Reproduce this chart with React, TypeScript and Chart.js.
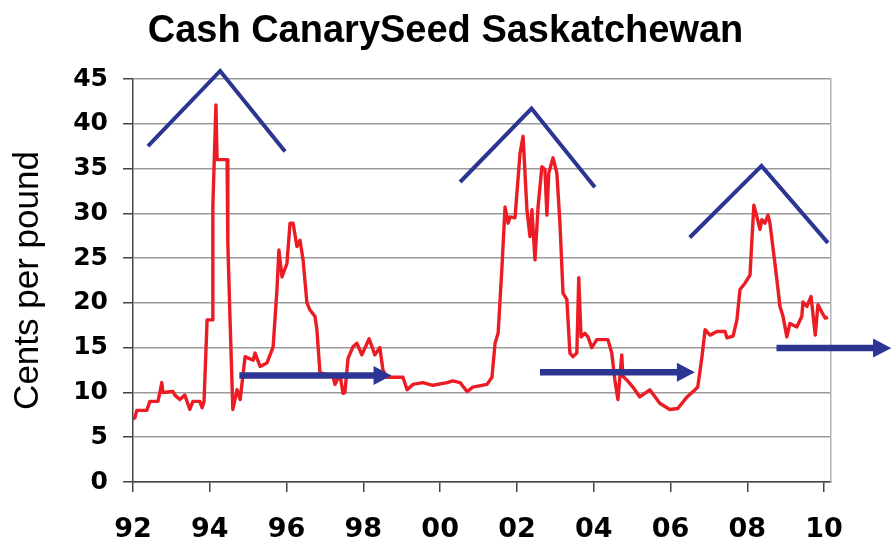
import React, { useEffect, useRef } from "react";
import { Chart, registerables } from "chart.js";

Chart.register(...registerables);

const TITLE = "Cash CanarySeed Saskatchewan";
const Y_TITLE = "Cents per pound";

const yearTicks = [1992, 1994, 1996, 1998, 2000, 2002, 2004, 2006, 2008, 2010];
const tickLabels = ["92", "94", "96", "98", "00", "02", "04", "06", "08", "10"];
const yTickValues = [0, 5, 10, 15, 20, 25, 30, 35, 40, 45];

// Cash canary seed price, cents per pound (decimal year, value)
const priceYears = [
  1992.0, 1992.05, 1992.1, 1992.36, 1992.44, 1992.65, 1992.7, 1992.75, 1992.78, 1993.04,
  1993.09, 1993.22, 1993.35, 1993.48, 1993.56, 1993.74, 1993.8, 1993.85, 1993.93, 1994.06,
  1994.08, 1994.16, 1994.19, 1994.45, 1994.47, 1994.53, 1994.6, 1994.71, 1994.79, 1994.92,
  1995.13, 1995.18, 1995.31, 1995.49, 1995.65, 1995.75, 1995.8, 1995.88, 1996.01, 1996.09,
  1996.17, 1996.27, 1996.35, 1996.43, 1996.53, 1996.61, 1996.74, 1996.79, 1996.87, 1997.21,
  1997.26, 1997.39, 1997.47, 1997.52, 1997.6, 1997.73, 1997.83, 1997.96, 1998.15, 1998.3,
  1998.43, 1998.51, 1998.61, 1999.03, 1999.14, 1999.29, 1999.55, 1999.81, 2000.18, 2000.33,
  2000.52, 2000.7, 2000.85, 2001.22, 2001.35, 2001.43, 2001.51, 2001.61, 2001.69, 2001.77,
  2001.82, 2001.95, 2002.08, 2002.16, 2002.26, 2002.34, 2002.39, 2002.47, 2002.55, 2002.65,
  2002.73, 2002.78, 2002.83, 2002.94, 2003.04, 2003.12, 2003.2, 2003.3, 2003.38, 2003.46,
  2003.56, 2003.61, 2003.67, 2003.77, 2003.85, 2003.95, 2004.08, 2004.37, 2004.47, 2004.55,
  2004.63, 2004.73, 2004.76, 2004.86, 2005.02, 2005.2, 2005.46, 2005.72, 2005.98, 2006.19,
  2006.43, 2006.64, 2006.71, 2006.82, 2006.9, 2007.03, 2007.21, 2007.42, 2007.47, 2007.63,
  2007.73, 2007.81, 2007.94, 2008.07, 2008.12, 2008.17, 2008.25, 2008.33, 2008.38, 2008.46,
  2008.54, 2008.59, 2008.72, 2008.8, 2008.85, 2008.93, 2009.03, 2009.11, 2009.29, 2009.42,
  2009.45, 2009.55, 2009.66, 2009.77, 2009.84, 2009.95, 2010.03, 2010.1,
];
const priceValues = [
  7.0, 7.2, 8.0, 8.0, 9.0, 9.0, 10.0, 11.1, 10.0, 10.1,
  9.7, 9.2, 9.7, 8.1, 9.0, 9.0, 8.3, 9.0, 18.1, 18.1,
  30.8, 42.1, 36.0, 36.0, 26.7, 17.8, 8.1, 10.3, 9.2, 14.0,
  13.6, 14.4, 12.9, 13.3, 15.1, 21.5, 25.9, 22.9, 24.4, 28.9,
  28.9, 26.3, 27.0, 24.8, 20.0, 19.2, 18.5, 17.0, 12.2, 11.8,
  10.9, 12.0, 9.9, 10.0, 13.8, 15.1, 15.5, 14.2, 16.0, 14.2,
  15.0, 12.5, 11.7, 11.7, 10.3, 10.9, 11.1, 10.8, 11.1, 11.3,
  11.1, 10.1, 10.6, 10.9, 11.7, 15.5, 16.6, 24.0, 30.7, 28.9,
  29.6, 29.5, 36.7, 38.6, 30.4, 27.4, 30.4, 24.8, 30.7, 35.2,
  34.9, 29.8, 34.5, 36.2, 34.5, 28.9, 21.1, 20.4, 14.4, 14.0,
  14.4, 22.8, 16.2, 16.6, 16.2, 15.0, 15.9, 15.9, 14.4, 11.4,
  9.2, 14.2, 11.8, 11.4, 10.6, 9.5, 10.3, 8.8, 8.1, 8.2,
  9.5, 10.3, 10.6, 14.0, 17.0, 16.4, 16.8, 16.8, 16.1, 16.3,
  18.1, 21.5, 22.2, 23.1, 27.0, 30.9, 29.6, 28.2, 29.3, 28.9,
  29.8, 28.9, 24.4, 21.5, 19.6, 18.5, 16.2, 17.7, 17.3, 18.5,
  20.1, 19.6, 20.7, 16.4, 19.8, 18.9, 18.3, 18.4,
];

// Hand-drawn "peak" chevrons (decimal year, value)
const peakYears = [
  [1992.39, 1994.27, 1995.96],
  [2000.52, 2002.38, 2004.03],
  [2006.5, 2008.37, 2010.1],
];
const peakValues = [
  [37.5, 45.9, 36.9],
  [33.5, 41.7, 32.9],
  [27.3, 35.3, 26.7],
];

// Horizontal arrows (start year, end year, level)
const arrowStartYears = [1994.77, 2002.6, 2008.76];
const arrowEndYears = [1998.37, 2006.27, 2011.38];
const arrowLevels = [11.9, 12.25, 14.95];

const RED = "#ec1c24";
const BLUE = "#2c3592";
const SANS = "'Liberation Sans', Arial, Helvetica, sans-serif";
const WIDE = "'DejaVu Sans', Verdana, sans-serif";

const arrowHeadPlugin = {
  id: "arrowHeads",
  afterDatasetsDraw(chart: any) {
    const { ctx, scales } = chart;
    const xs = scales.x;
    const ys = scales.y;
    ctx.save();
    ctx.fillStyle = BLUE;
    arrowEndYears.forEach((ey, i) => {
      const px = xs.getPixelForValue(ey);
      const py = ys.getPixelForValue(arrowLevels[i]);
      ctx.beginPath();
      ctx.moveTo(px - 4, py - 9.5);
      ctx.lineTo(px + 14, py);
      ctx.lineTo(px - 4, py + 9.5);
      ctx.closePath();
      ctx.fill();
    });
    ctx.restore();
  },
};

export default function App() {
  const ref = useRef<HTMLCanvasElement>(null);

  useEffect(() => {
    if (!ref.current) return;
    const peakSets = peakYears.map((ys, k) => ({
      label: "peak" + k,
      data: ys.map((x, i) => ({ x, y: peakValues[k][i] })),
      borderColor: BLUE,
      borderWidth: 4,
      pointRadius: 0,
      tension: 0,
      clip: false as any,
      borderCapStyle: "butt" as const,
      borderJoinStyle: "miter" as const,
    }));
    const arrowSets = arrowStartYears.map((sx, k) => ({
      label: "arrow" + k,
      data: [
        { x: sx, y: arrowLevels[k] },
        { x: arrowEndYears[k], y: arrowLevels[k] },
      ],
      borderColor: BLUE,
      borderWidth: 6.5,
      pointRadius: 0,
      tension: 0,
      clip: false as any,
      borderCapStyle: "butt" as const,
    }));
    const chart = new Chart(ref.current, {
      type: "line",
      data: {
        datasets: [
          ...arrowSets,
          ...peakSets,
          {
            label: "Price",
            data: priceYears.map((x, i) => ({ x, y: priceValues[i] })),
            borderColor: RED,
            borderWidth: 3.4,
            pointRadius: 0,
            tension: 0,
            borderJoinStyle: "round" as const,
          },
        ],
      },
      options: {
        responsive: false,
        animation: false,
        devicePixelRatio: 1,
        layout: { padding: { left: 0, right: 0, top: 0, bottom: 0 } },
        plugins: {
          legend: { display: false },
          tooltip: { enabled: false },
          title: {
            display: true,
            text: TITLE,
            color: "#000",
            font: { family: SANS, size: 38, weight: "bold" },
            padding: { top: 9, bottom: 24.4 },
          },
        },
        scales: {
          x: {
            type: "linear",
            min: 1992,
            max: 2010.18,
            afterBuildTicks: (scale: any) => {
              scale.ticks = yearTicks.map((v) => ({ value: v }));
            },
            afterFit: (scale: any) => {
              scale.height = 60;
            },
            ticks: {
              autoSkip: false,
              maxRotation: 0,
              color: "#000",
              padding: 22,
              font: { family: WIDE, size: 27, weight: "bold" },
              callback: (_v: any, i: number) => tickLabels[i],
            },
            grid: {
              drawOnChartArea: false,
              drawTicks: true,
              tickLength: 10,
              tickColor: "#444",
              lineWidth: 1.5,
            },
            border: { color: "#444", width: 1.5 },
          },
          y: {
            type: "linear",
            min: 0,
            max: 45,
            afterBuildTicks: (scale: any) => {
              scale.ticks = yTickValues.map((v) => ({ value: v }));
            },
            afterFit: (scale: any) => {
              scale.width = 133;
            },
            ticks: {
              color: "#000",
              padding: 15,
              font: { family: WIDE, size: 25, weight: "bold" },
            },
            grid: {
              color: "#9a9a9a",
              lineWidth: 1.5,
              tickLength: 10,
              tickColor: "#444",
            },
            border: { color: "#444", width: 1.5 },
            title: {
              display: true,
              text: Y_TITLE,
              color: "#000",
              font: { family: SANS, size: 35, weight: "normal" },
              padding: { top: 7, bottom: 0 },
            },
          },
          y2: {
            type: "linear",
            position: "right",
            min: 0,
            max: 45,
            ticks: { display: false },
            grid: { drawOnChartArea: false, drawTicks: false },
            border: { color: "#b0b0b0", width: 1.5 },
            afterFit: (scale: any) => {
              scale.width = 60;
            },
          },
        },
      },
      plugins: [arrowHeadPlugin],
    } as any);
    return () => chart.destroy();
  }, []);

  return (
    <div
      style={{
        position: "fixed",
        left: 0,
        top: 0,
        width: 891,
        height: 542,
        background: "#fff",
      }}
    >
      <canvas
        ref={ref}
        width={891}
        height={542}
        style={{ display: "block", width: 891, height: 542 }}
      />
    </div>
  );
}
